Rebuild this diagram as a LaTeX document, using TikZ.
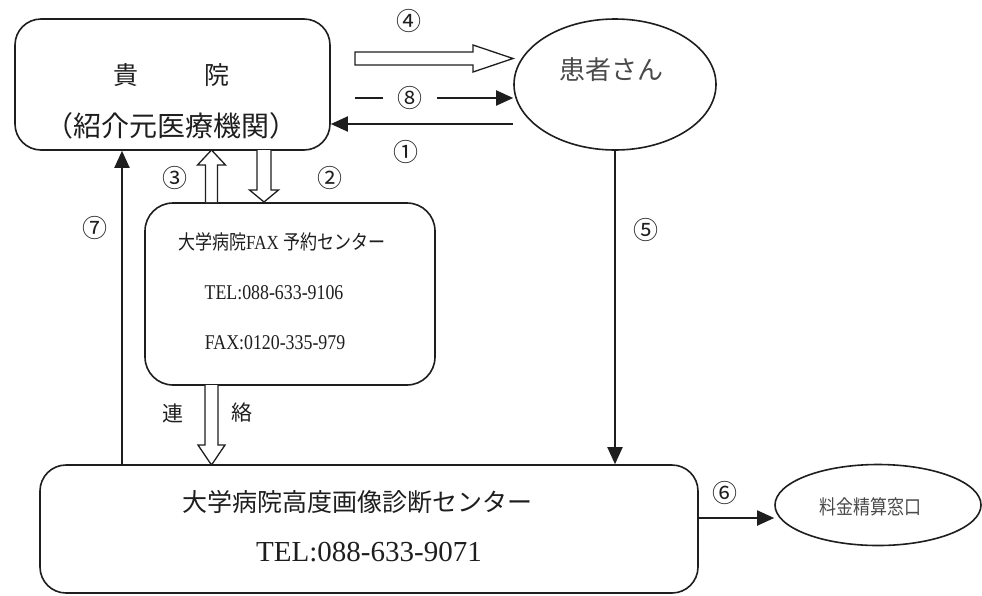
\documentclass[tikz,border=0pt]{standalone}
\usepackage{fontspec}
\usetikzlibrary{arrows.meta,shapes.geometric,calc}
\setmainfont{Liberation Serif}
\newfontfamily\jp{Noto Sans CJK JP}
\newfontfamily\jpc[FakeStretch=0.85]{Noto Sans CJK JP}
\newfontfamily\serc[FakeStretch=0.85]{Liberation Serif}
\definecolor{ink}{HTML}{1E1E1E}
\definecolor{softink}{HTML}{4A4A4A}
\tikzset{
  box/.style={draw=ink, line width=1.6pt, rounded corners=26pt, inner sep=0pt, fill=white},
  oval/.style={draw=ink, line width=1.6pt, ellipse, inner sep=0pt},
  arr/.style={draw=ink, line width=1.9pt, -{Triangle[length=17pt,width=15pt]}},
  hollow/.style={draw=ink, line width=1.3pt, fill=white, line join=miter},
  num/.style={font=\jp\fontsize{25}{25}\selectfont, text=ink, inner sep=1pt},
  lbl/.style={text=ink, inner sep=0pt}
}
\begin{document}
\begin{tikzpicture}[x=1pt,y=-1pt]
\useasboundingbox (0,0) rectangle (982,595);
% boxes
\node[box, minimum width=315pt, minimum height=131pt] (gk) at (172.5,84.5) {};
\node[lbl, font=\jp\fontsize{25}{25}\selectfont] (gk1) at (126,75) {貴};
\node[lbl, font=\jp\fontsize{25}{25}\selectfont] (gk2) at (217,75) {院};
\node[lbl, font=\jp\fontsize{28}{28}\selectfont] (gk3) at (171,126) {（紹介元医療機関）};

\node[oval, minimum width=202pt, minimum height=131pt] (pt) at (615,84.5) {};
\node[lbl, text=softink, font=\jp\fontsize{26}{26}\selectfont] (pt1) at (611,70) {患者さん};

\node[box, rounded corners=28pt, minimum width=290pt, minimum height=182pt] (fax) at (290,294) {};
\node[lbl, font=\fontsize{20}{20}\selectfont] (fax1) at (282,242) {{\jpc 大学病院}{\serc FAX} {\jpc 予約センター}};
\node[lbl, font=\serc\fontsize{21}{21}\selectfont] (fax2) at (274,293) {TEL:088-633-9106};
\node[lbl, font=\serc\fontsize{21}{21}\selectfont] (fax3) at (275,343) {FAX:0120-335-979};

\node[box, minimum width=658pt, minimum height=128pt] (bot) at (369,529) {};
\node[lbl, font=\jp\fontsize{25}{25}\selectfont] (bot1) at (357,502) {大学病院高度画像診断センター};
\node[lbl, font=\fontsize{29}{29}\selectfont] (bot2) at (369,552) {TEL:088-633-9071};

\node[oval, minimum width=206pt, minimum height=81pt] (cash) at (878,505) {};
\node[lbl, text=softink, font=\jpc\fontsize{20}{20}\selectfont] (cash1) at (870,507) {料金精算窓口};

% coordinates for connector ends
\coordinate (a1) at (513,124);
\coordinate (a8) at (355,98);
\coordinate (c7) at (122,0);
\coordinate (c6) at (698,518);

% thin arrows
\draw[arr] (a1) -- (a1 -| gk.east);
\draw[arr] (a8) -- (pt.west |- a8);
\node[num, fill=white, minimum width=54pt] (n8) at (410,98) {⑧};
\draw[arr] (c7 |- bot.north) -- (c7 |- gk.south);
\draw[arr] (pt.south) -- (pt.south |- bot.north);
\draw[arr] (c6) -- (cash.west |- c6);

% hollow arrows
\draw[hollow] (355,52) -- (473,52) -- (473,45) -- (513,58.5) -- (473,72) -- (473,65) -- (355,65) -- cycle;
\draw[hollow] (205.5,202) -- (205.5,165) -- (197.5,165) -- (211.5,150) -- (225.5,165) -- (217.5,165) -- (217.5,202);
\draw[hollow] (257,150) -- (257,190) -- (249.5,190) -- (264,202) -- (278.5,190) -- (271,190) -- (271,150);
\draw[hollow] (205,385) -- (205,445) -- (198,445) -- (211.5,465) -- (225,445) -- (218,445) -- (218,385);

% labels
\node[num] (n4) at (409,21) {④};
\node[num] (n1) at (406,152) {①};
\node[num] (n3) at (175,178) {③};
\node[num] (n2) at (330,178) {②};
\node[num] (n7) at (95,228) {⑦};
\node[num] (n5) at (646,230) {⑤};
\node[num] (n6) at (725,493) {⑥};
\node[lbl, font=\jp\fontsize{21}{21}\selectfont] (r1) at (173,413) {連};
\node[lbl, font=\jp\fontsize{21}{21}\selectfont] (r2) at (242,413) {絡};
\end{tikzpicture}
\end{document}
